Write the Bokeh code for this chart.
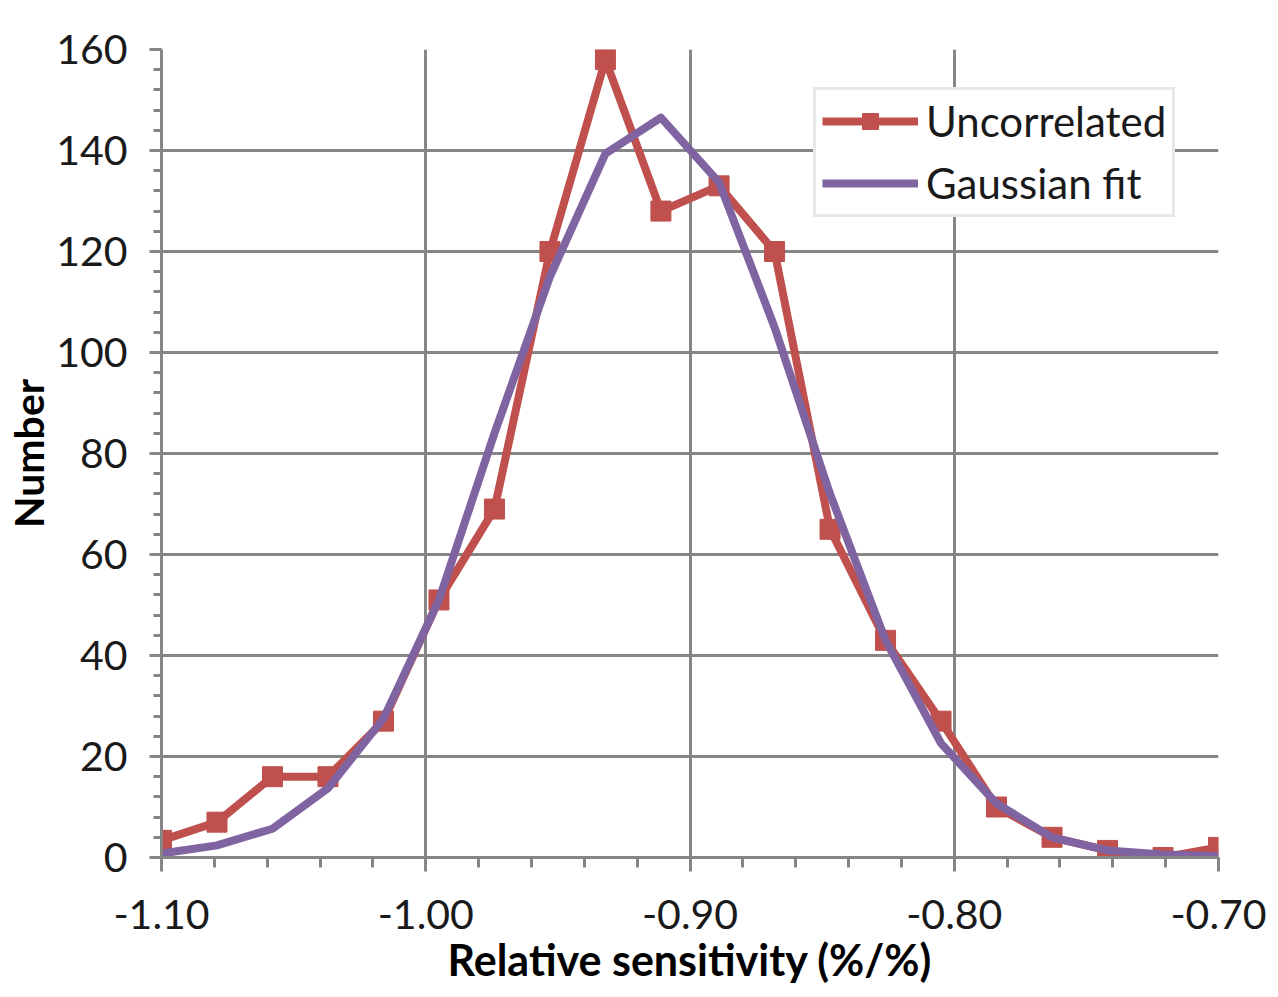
from bokeh.plotting import figure
from bokeh.models import FixedTicker, NumeralTickFormatter, Legend, LegendItem, ColumnDataSource
from bokeh.embed import file_html
from bokeh.resources import INLINE

# Data
sensitivity = [-1.100, -1.079, -1.058, -1.037, -1.016, -0.995, -0.974, -0.953, -0.932, -0.911,
               -0.889, -0.868, -0.847, -0.826, -0.805, -0.784, -0.763, -0.742, -0.721, -0.700]
uncorrelated = [3.4, 7, 16, 16, 27, 51, 69, 120, 158, 128,
                133, 120, 65, 43, 27, 10, 4, 1.4, 0, 2]
gaussian_fit = [0.8, 2.4, 5.7, 13.7, 27.5, 51, 84, 115, 139.4, 146.5,
                133.7, 105, 72, 43, 22.6, 10.7, 4, 1.4, 0.6, 0.3]

x_major = [-1.10, -1.00, -0.90, -0.80, -0.70]
x_minor = [-1.10, -1.08, -1.06, -1.04, -1.02, -1.00, -0.98, -0.96, -0.94, -0.92, -0.90,
           -0.88, -0.86, -0.84, -0.82, -0.80, -0.78, -0.76, -0.74, -0.72, -0.70]
y_major = [0, 20, 40, 60, 80, 100, 120, 140, 160]
y_minor = list(range(0, 161, 4))

FONT = "Lato"
GRID = "#868686"
RED = "#C0504D"
PURPLE = "#8064A2"

src = ColumnDataSource(dict(x=sensitivity, u=uncorrelated, g=gaussian_fit))

p = figure(width=1278, height=997, frame_width=1057, frame_height=808,
           min_border_left=161, min_border_right=60, min_border_top=49, min_border_bottom=140,
           x_range=(-1.10, -0.70), y_range=(0, 160),
           output_backend="svg", toolbar_location=None)
p.outline_line_color = None
p.background_fill_color = "white"
p.border_fill_color = "white"

for ax in (p.xaxis[0], p.yaxis[0]):
    ax.axis_line_color = GRID
    ax.axis_line_width = 3
    ax.major_tick_line_color = GRID
    ax.major_tick_line_width = 3
    ax.minor_tick_line_color = GRID
    ax.minor_tick_line_width = 3
    ax.major_tick_in = 0
    ax.minor_tick_in = 0
    ax.major_label_text_font = FONT
    ax.major_label_text_font_size = "41px"
    ax.major_label_text_color = "#1a1a1a"
    ax.axis_label_text_font = FONT
    ax.axis_label_text_font_style = "bold"
    ax.axis_label_text_color = "black"

p.xaxis.ticker = FixedTicker(ticks=x_major, minor_ticks=x_minor)
p.xaxis.formatter = NumeralTickFormatter(format="0.00")
p.xaxis.major_tick_out = 14
p.xaxis.minor_tick_out = 10
p.xaxis.major_label_standoff = 28
p.xaxis.axis_label = "Relative sensitivity (%/%)"
p.xaxis.axis_label_text_font_size = "43px"
p.xaxis.axis_label_standoff = 2

p.yaxis.ticker = FixedTicker(ticks=y_major, minor_ticks=y_minor)
p.yaxis.major_tick_out = 12
p.yaxis.minor_tick_out = 8
p.yaxis.major_label_standoff = 22
p.yaxis.axis_label = "Number"
p.yaxis.axis_label_text_font_size = "41px"
p.yaxis.axis_label_standoff = 0

p.xgrid.ticker = FixedTicker(ticks=x_major)
p.ygrid.ticker = FixedTicker(ticks=y_major)
for g in (p.xgrid[0], p.ygrid[0]):
    g.grid_line_color = GRID
    g.grid_line_width = 3

r_line = p.line("x", "u", source=src, line_color=RED, line_width=8, line_join="round")
r_mark = p.scatter("x", "u", source=src, marker="square", size=20,
                   fill_color=RED, line_color=RED)
g_line = p.line("x", "g", source=src, line_color=PURPLE, line_width=8, line_join="round")

legend = Legend(items=[LegendItem(label="Uncorrelated", renderers=[r_line, r_mark]),
                       LegendItem(label="Gaussian fit", renderers=[g_line])],
                location=(652, 640), orientation="vertical")
legend.label_text_font = FONT
legend.label_text_font_size = "42px"
legend.label_text_color = "#1a1a1a"
legend.glyph_width = 96
legend.glyph_height = 40
legend.label_height = 40
legend.label_standoff = 8
legend.spacing = 12
legend.padding = 6
legend.margin = 0
legend.border_line_color = "#d0d0d0"
legend.border_line_width = 3
legend.background_fill_color = "white"
legend.background_fill_alpha = 1.0
p.add_layout(legend, "center")

open("out.html", "w").write(file_html(p, INLINE))
